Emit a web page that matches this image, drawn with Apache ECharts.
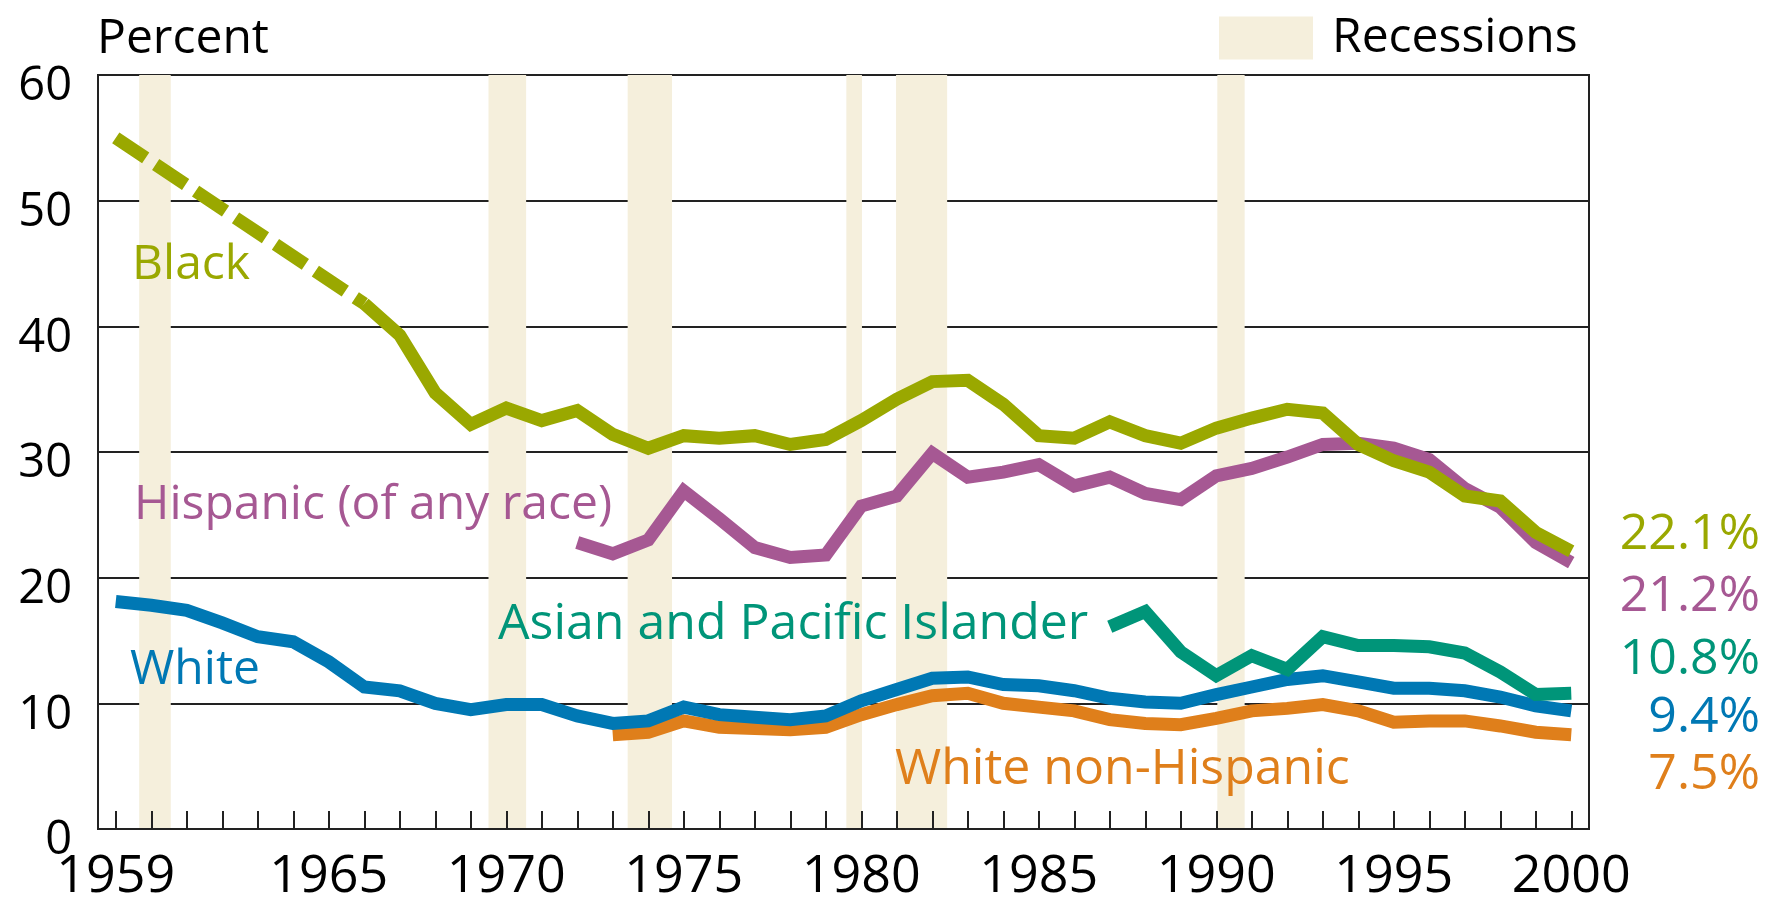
<!DOCTYPE html>
<html>
<head>
<meta charset="utf-8">
<script src="https://cdn.jsdelivr.net/npm/echarts@6/dist/echarts.min.js"></script>
<style>
html,body{margin:0;padding:0;background:#fff;}
#c{width:1766px;height:903px;}
</style>
</head>
<body>
<div id="c"></div>
<script>
// ---- data ----
const years = [];
for (let y = 1959; y <= 2000; y++) years.push(String(y));
const labelYears = [1959, 1965, 1970, 1975, 1980, 1985, 1990, 1995, 2000];
const yTicks = [0, 10, 20, 30, 40, 50, 60];

// Black: 1959, gap 1960-1965, then 1966-2000
const black = [55.0, null, null, null, null, null, null,
  41.8, 39.3, 34.7, 32.2, 33.5, 32.5, 33.3, 31.4, 30.3, 31.3,
  31.1, 31.3, 30.6, 31.0, 32.5, 34.2, 35.6, 35.7, 33.8, 31.3,
  31.1, 32.4, 31.3, 30.7, 31.9, 32.7, 33.4, 33.1, 30.6, 29.3,
  28.4, 26.5, 26.1, 23.6, 22.1];
const blackSolidStart = 1966;

// Hispanic 1972-2000
const hispanicStart = 1972;
const hispanic = [22.8, 21.9, 23.0, 26.9, 24.7, 22.4, 21.6, 21.8, 25.7, 26.5,
  29.9, 28.0, 28.4, 29.0, 27.3, 28.0, 26.7, 26.2, 28.1, 28.7,
  29.6, 30.6, 30.7, 30.3, 29.4, 27.1, 25.6, 22.8, 21.2];

// Asian and Pacific Islander 1987-2000
const asianStart = 1987;
const asian = [16.1, 17.3, 14.1, 12.2, 13.8, 12.7, 15.3, 14.6, 14.6, 14.5, 14.0, 12.5, 10.7, 10.8];

// White 1959-2000
const white = [18.1, 17.8, 17.4, 16.4, 15.3, 14.9, 13.3, 11.3, 11.0, 10.0,
  9.5, 9.9, 9.9, 9.0, 8.4, 8.6, 9.7, 9.1, 8.9, 8.7,
  9.0, 10.2, 11.1, 12.0, 12.1, 11.5, 11.4, 11.0, 10.4, 10.1,
  10.0, 10.7, 11.3, 11.9, 12.2, 11.7, 11.2, 11.2, 11.0, 10.5,
  9.8, 9.4];

// White non-Hispanic 1973-2000
const whiteNHStart = 1973;
const whiteNH = [7.5, 7.7, 8.6, 8.1, 8.0, 7.9, 8.1, 9.1, 9.9, 10.6,
  10.8, 10.0, 9.7, 9.4, 8.7, 8.4, 8.3, 8.8, 9.4, 9.6,
  9.9, 9.4, 8.5, 8.6, 8.6, 8.2, 7.7, 7.5];

// Recession periods (in axis year positions)
const recessions = [[1959.66, 1960.55], [1969.5, 1970.56], [1973.42, 1974.67],
  [1979.58, 1980.02], [1980.98, 1982.42], [1990.03, 1990.8]];

const endLabels = ['22.1%', '21.2%', '10.8%', '9.4%', '7.5%'];

// ---- helpers ----
function pad(arr, start) {
  const out = years.map(() => null);
  const off = start - 1959;
  arr.forEach((v, i) => { out[off + i] = v; });
  return out;
}
const blackDashed = years.map((y, i) => (+y <= blackSolidStart ? black[i] : null));
const blackSolid = years.map((y, i) => (+y >= blackSolidStart ? black[i] : null));

const C = {
  black: '#9aa800', hisp: '#a65893', asian: '#009579', white: '#0078b4',
  whiteNH: '#df7f1b', rec: '#f5efdc', grid: '#222222'
};
const FONT = '"Open Sans", "Noto Sans", sans-serif';
const LW = 13;

function lineSeries(name, data, color, extra) {
  return Object.assign({
    name, type: 'line', data, showSymbol: false, symbol: 'none',
    lineStyle: { color, width: LW, cap: 'butt', join: 'miter' },
    itemStyle: { color }, z: 3, silent: true, animation: false
  }, extra || {});
}

function txt(text, x, y, color, size, align) {
  return {
    type: 'text', x, y, silent: true, z: 100,
    style: { text, fill: color, font: size + 'px ' + FONT, align: align || 'left', verticalAlign: 'middle' }
  };
}

const chart = echarts.init(document.getElementById('c'));
chart.setOption({
  backgroundColor: '#ffffff',
  animation: false,
  grid: { left: 98, right: 177, top: 75, bottom: 70, show: true, borderColor: C.grid, borderWidth: 2, z: 1 },
  legend: {
    data: [{ name: 'Recessions', icon: 'rect' }],
    left: 1219, top: 14, padding: 0, itemWidth: 94, itemHeight: 43,
    textStyle: { fontSize: 48, fontFamily: FONT, color: '#000', padding: [0, 0, 0, 14] },
    selectedMode: false
  },
  xAxis: [{
    type: 'category', data: years, boundaryGap: true, z: 1,
    axisLine: { show: true, lineStyle: { color: C.grid, width: 2 } },
    axisTick: { show: true, alignWithLabel: true, inside: true, length: 18, interval: 0, lineStyle: { color: C.grid, width: 2 } },
    axisLabel: {
      interval: (idx, val) => labelYears.indexOf(+val) >= 0,
      fontSize: 52, fontFamily: FONT, color: '#000', margin: 22
    },
    splitLine: { show: false }
  }, {
    type: 'value', min: 1958.5, max: 2000.5, show: false, position: 'bottom'
  }],
  yAxis: {
    type: 'value', min: yTicks[0], max: yTicks[yTicks.length - 1], interval: 10, z: 1,
    axisLine: { show: true, lineStyle: { color: C.grid, width: 2 } },
    axisTick: { show: false },
    axisLabel: { fontSize: 47, fontFamily: FONT, color: '#000', margin: 26, verticalAlign: 'top', lineHeight: 24 },
    splitLine: { show: true, lineStyle: { color: C.grid, width: 2 } }
  },
  series: [
    {
      name: 'Recessions', type: 'line', xAxisIndex: 1, data: [], z: 0,
      itemStyle: { color: C.rec }, lineStyle: { color: C.rec }, silent: true,
      markArea: {
        silent: true, itemStyle: { color: C.rec },
        data: recessions.map(r => [{ xAxis: r[0] }, { xAxis: r[1] }])
      }
    },
    lineSeries('White non-Hispanic', pad(whiteNH, whiteNHStart), C.whiteNH),
    lineSeries('White', white, C.white),
    lineSeries('Asian and Pacific Islander', pad(asian, asianStart), C.asian),
    lineSeries('Hispanic (of any race)', pad(hispanic, hispanicStart), C.hisp),
    lineSeries('Black (est.)', blackDashed, C.black, { connectNulls: true, lineStyle: { color: C.black, width: LW, type: [36, 12], cap: 'butt' } }),
    lineSeries('Black', blackSolid, C.black)
  ],
  graphic: [
    txt('Percent', 97, 39, '#000', 48),
    txt('Black', 132, 265, C.black, 48),
    txt('Hispanic (of any race)', 134, 505, C.hisp, 48),
    txt('White', 130, 670, C.white, 48),
    txt('Asian and Pacific Islander', 498, 625, C.asian, 50),
    txt('White non-Hispanic', 895, 770, C.whiteNH, 50),
    txt(endLabels[0], 1760, 535, C.black, 50, 'right'),
    txt(endLabels[1], 1760, 597, C.hisp, 50, 'right'),
    txt(endLabels[2], 1760, 660, C.asian, 50, 'right'),
    txt(endLabels[3], 1760, 718, C.white, 50, 'right'),
    txt(endLabels[4], 1760, 775, C.whiteNH, 50, 'right')
  ]
});
</script>
</body>
</html>
